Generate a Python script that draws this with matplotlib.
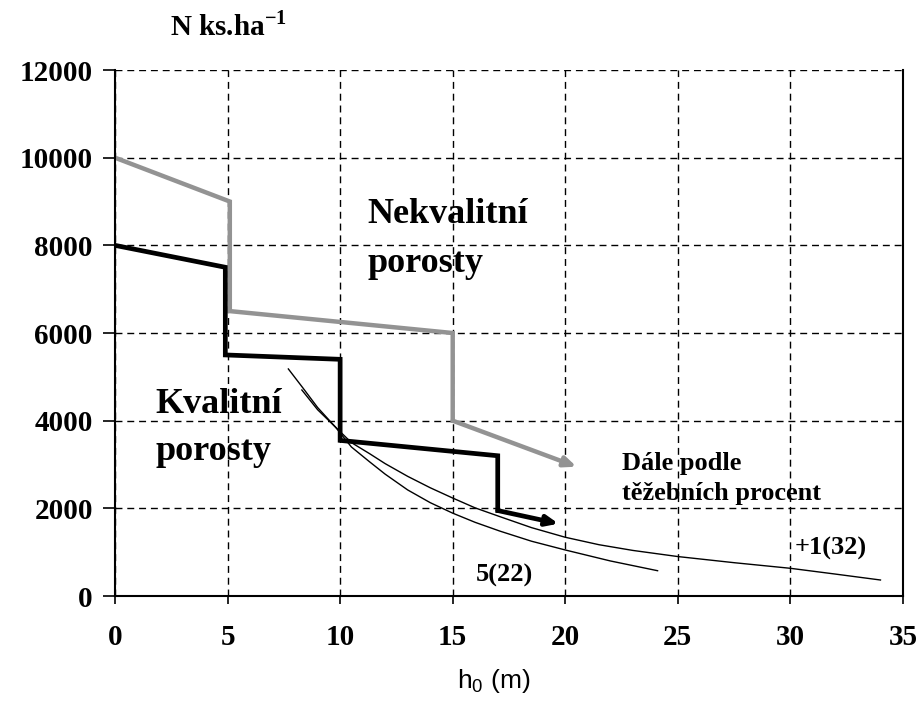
import matplotlib
matplotlib.use("Agg")
import matplotlib.pyplot as plt

plt.rcParams['mathtext.fontset'] = 'custom'
plt.rcParams['mathtext.rm'] = 'Liberation Serif'
plt.rcParams['mathtext.bf'] = 'Liberation Serif:bold'
plt.rcParams['mathtext.sf'] = 'Liberation Sans'

# Data
x_ticks = [0, 5, 10, 15, 20, 25, 30, 35]
y_ticks = [0, 2000, 4000, 6000, 8000, 10000, 12000]

nekval_x = [0, 5.1, 5.1, 15, 15]
nekval_y = [10000, 9000, 6500, 6000, 4000]
nekval_arrow_end = (20.5, 2950)

kval_x = [0, 4.9, 4.9, 10, 10, 17, 17]
kval_y = [8000, 7500, 5500, 5400, 3550, 3200, 1950]
kval_arrow_end = (19.7, 1650)

curve5_x = [7.7, 8.35, 9.0, 9.8, 10.5, 11.3, 12.0, 13.0, 14.0, 15.0, 16.0, 17.1, 18.5, 20.0, 22.0, 24.1]
curve5_y = [5180, 4745, 4300, 3850, 3400, 3065, 2780, 2420, 2130, 1890, 1680, 1480, 1250, 1050, 800, 577]

curve1_x = [8.3, 9.0, 9.8, 10.5, 11.3, 12.0, 13.0, 14.0, 15.0, 16.0, 17.1, 18.5, 20.0, 21.5, 23.0, 25.0, 27.5, 30.0, 32.0, 34.0]
curve1_y = [4700, 4250, 3850, 3500, 3250, 3020, 2730, 2470, 2235, 2010, 1810, 1560, 1340, 1170, 1040, 900, 760, 632, 500, 365]

serif = 'Liberation Serif'

fig = plt.figure(figsize=(9.2, 7.06), dpi=100)
ax = fig.add_axes([0.125, 0.1558, 0.8565, 0.745])

ax.set_xlim(0, 35)
ax.set_ylim(0, 12000)
ax.set_xticks(x_ticks)
ax.set_yticks(y_ticks)
ax.set_xticklabels([str(v) for v in x_ticks], fontfamily=serif, fontweight='bold', fontsize=21)
ax.set_yticklabels([str(v) for v in y_ticks], fontfamily=serif, fontweight='bold', fontsize=21)
ax.tick_params(axis='y', direction='out', length=9, width=1.2, pad=7)
ax.tick_params(axis='x', direction='out', length=6, width=1.2, pad=14)

ax.grid(True, color='black', linestyle=(0, (5, 3.5)), linewidth=1.0)
ax.set_axisbelow(True)
for s in ['left', 'bottom', 'right']:
    ax.spines[s].set_linewidth(1.5)
    ax.spines[s].set_color('black')
ax.spines['top'].set_visible(False)

# Thin curves
ax.plot(curve5_x, curve5_y, color='black', linewidth=1.0)
ax.plot(curve1_x, curve1_y, color='black', linewidth=1.0)

# Step lines
gray = '#939393'
ax.plot(nekval_x, nekval_y, color=gray, linewidth=3.2, solid_joinstyle='miter')
ax.annotate('', xy=nekval_arrow_end, xytext=(nekval_x[-1], nekval_y[-1]),
            arrowprops=dict(arrowstyle='-|>,head_length=0.7,head_width=0.3', color=gray,
                            lw=3.2, shrinkA=0, shrinkB=0))
ax.plot(kval_x, kval_y, color='black', linewidth=3.4, solid_joinstyle='miter')
ax.annotate('', xy=kval_arrow_end, xytext=(kval_x[-1], kval_y[-1]),
            arrowprops=dict(arrowstyle='-|>,head_length=0.7,head_width=0.3', color='black',
                            lw=3.4, shrinkA=0, shrinkB=0))

# Texts
big = dict(fontfamily=serif, fontweight='bold', fontsize=26, ha='left', va='baseline')
ax.text(11.2, 8510, 'Nekvalitní', **big)
ax.text(11.2, 7392, 'porosty', **big)
ax.text(1.78, 4175, 'Kvalitní', **big)
ax.text(1.78, 3103, 'porosty', **big)

mid = dict(fontfamily=serif, fontweight='bold', fontsize=19, ha='left', va='baseline')
ax.text(22.52, 2875, 'Dále podle', **mid)
ax.text(22.52, 2190, 'těžebních procent', **mid)

ax.text(17.3, 480, '5(22)', fontfamily=serif, fontweight='bold', fontsize=19,
        ha='center', va='center')
ax.text(31.8, 1095, '+1(32)', fontfamily=serif, fontweight='bold', fontsize=19,
        ha='center', va='center')

fig.text(0.1848, 0.9504, r'N ks.ha$^{\mathbf{-1}}$', fontfamily=serif, fontweight='bold',
         fontsize=21, ha='left', va='baseline')
fig.text(0.537, 0.0255, r'h$_\mathsf{0}$ (m)', fontfamily='Liberation Sans', fontsize=19,
         ha='center', va='baseline')

fig.savefig('out.png', dpi=100)
